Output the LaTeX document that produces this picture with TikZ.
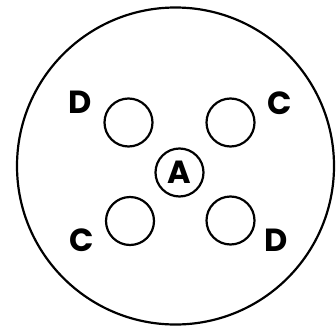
\documentclass[tikz,border=0pt]{standalone}
\usepackage{fontspec}
\setmainfont{Poppins}[BoldFont={* Bold}]
\begin{document}
\begin{tikzpicture}[x=1pt,y=-1pt,
  ring/.style={circle,draw,line width=2.2pt,inner sep=0pt,minimum size=48pt},
  lbl/.style={font=\fontsize{32}{32}\selectfont\bfseries,inner sep=0pt}]
\useasboundingbox (0,0) rectangle (336,326);
\node[circle,draw,line width=2.2pt,inner sep=0pt,minimum size=317pt] (outer) at (175.5,166) {};
\node[ring] (tl) at (128.5,122.5) {};
\node[ring] (tr) at (230.5,122.5) {};
\node[ring] (bl) at (130,221) {};
\node[ring] (br) at (230.5,220.5) {};
\node[ring,lbl] (a) at (179.5,172.5) {A};
\node[lbl] (d1) at (80,102) {D};
\node[lbl] (c1) at (280,103) {C};
\node[lbl] (c2) at (82,240) {C};
\node[lbl] (d2) at (276,240) {D};
\end{tikzpicture}
\end{document}
